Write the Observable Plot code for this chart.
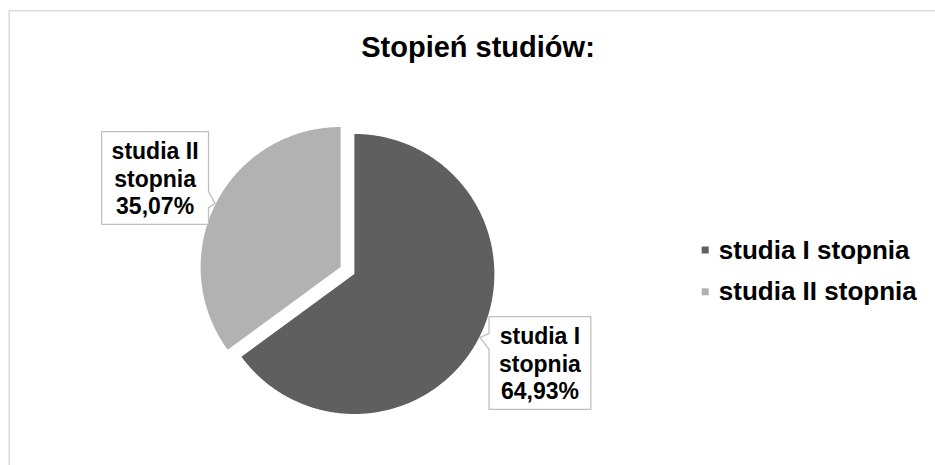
<!DOCTYPE html>
<html><head><meta charset="utf-8">
<script src="https://cdn.jsdelivr.net/npm/d3@7"></script>
<script src="https://cdn.jsdelivr.net/npm/@observablehq/plot@0.6"></script>
<style>
html,body{margin:0;padding:0;background:#fff;overflow:hidden;}
</style>
</head><body><div id="chart"></div>
<script>
// ---- data ----
const title = "Stopień studiów:";
const categories = ["studia I stopnia", "studia II stopnia"];
const labelLines = [["studia I", "stopnia"], ["studia II", "stopnia"]];
const shares = [64.93, 35.07];
const colors = ["#5f5f5f", "#b2b2b2"];

// ---- layout ----
const W = 935, H = 465;
const R = 140;            // pie radius in px
const cx = 347, cy = 270; // pie centre in px
const explode = 7.7 / R;
const FONT = "'Liberation Sans', Arial, sans-serif";
const labelFont = 23, labelLH = 1.2;

const fmtPct = v => v.toFixed(2).replace(".", ",") + "%";

const pie = d3.pie().sort(null).value(d => d)(shares);
const slices = pie.map((p, i) => {
  const mid = (p.startAngle + p.endAngle) / 2;
  return {...p, i, cat: categories[i], mid, ux: Math.sin(mid), uy: Math.cos(mid)};
});

// wedge outlines in unit (radius = 1) coordinates
const wedgePts = slices.flatMap(s => {
  const ox = s.ux * explode, oy = s.uy * explode;
  const n = Math.ceil((s.endAngle - s.startAngle) / (Math.PI / 360));
  const pts = [{cat: s.cat, x: ox, y: oy}];
  for (let k = 0; k <= n; k++) {
    const a = s.startAngle + (s.endAngle - s.startAngle) * k / n;
    pts.push({cat: s.cat, x: ox + Math.sin(a), y: oy + Math.cos(a)});
  }
  pts.push({cat: s.cat, x: ox, y: oy});
  return pts;
});

// callout boxes
const ctx = document.createElement("canvas").getContext("2d");
ctx.font = `bold ${labelFont}px ${FONT}`;
const labelR = 1.525, tipR = 1.06, labelRot = -0.021;
const labels = slices.map(s => {
  const lines = [...labelLines[s.i], fmtPct(s.value)];
  const w = (d3.max(lines, l => ctx.measureText(l).width) + 20) / R;
  const h = (lines.length * labelFont * labelLH + 10) / R;
  const la = s.mid + labelRot;
  return {s, lines, x: Math.sin(la) * labelR, y: Math.cos(la) * labelR, w, h, tx: s.ux * tipR, ty: s.uy * tipR};
});
const calloutPts = labels.flatMap((L, id) => {
  const x0 = L.x - L.w / 2, x1 = L.x + L.w / 2, yb = L.y - L.h / 2, yt = L.y + L.h / 2;
  const nc = L.ty + 0.15 * (L.y - L.ty), nh = 8 / R;
  const tip = {x: L.tx, y: L.ty};
  let p;
  if (L.tx > L.x) {
    p = [[x0, yt], [x1, yt], [x1, nc + nh], [tip.x, tip.y], [x1, nc - nh], [x1, yb], [x0, yb], [x0, yt]];
  } else {
    p = [[x0, yt], [x1, yt], [x1, yb], [x0, yb], [x0, nc - nh], [tip.x, tip.y], [x0, nc + nh], [x0, yt]];
  }
  return p.map(([x, y]) => ({id, x, y}));
});

const legendMarks = categories.flatMap((c, i) => [
  Plot.dot([c], {frameAnchor: "top-left", dx: 704.7, dy: 249.5 + i * 41.8, symbol: "square", r: 3.95, fill: d => d, stroke: "none"}),
  Plot.text([c], {frameAnchor: "top-left", lineAnchor: "middle", dx: 718.3, dy: 249.8 + i * 41.2, text: d => d, textAnchor: "start",
    fontSize: 26, fontWeight: "bold", fill: "#000"})
]);

const chart = Plot.plot({
  width: W, height: H,
  margin: 0,
  style: {fontFamily: FONT, background: "#fff", color: "#000"},
  x: {domain: [-cx / R, (W - cx) / R], range: [0, W], axis: null},
  y: {domain: [-(H - cy) / R, cy / R], range: [H, 0], axis: null},
  color: {type: "ordinal", domain: categories, range: colors},
  marks: [
    Plot.frame({stroke: "#d9d9d9", strokeWidth: 1.5, insetLeft: 8.7, insetTop: 10.2, insetRight: -4, insetBottom: -4}),
    Plot.text([title], {frameAnchor: "top-left", lineAnchor: "middle", dx: 477.5, dy: 47.4, text: d => d, fontSize: 29,
      fontWeight: "bold", textAnchor: "middle", fill: "#000"}),
    Plot.line(wedgePts, {x: "x", y: "y", z: "cat", fill: "cat", stroke: "none", curve: "linear"}),
    Plot.line(calloutPts, {x: "x", y: "y", z: "id", fill: "#fff", stroke: "#bfbfbf", strokeWidth: 1.3,
      curve: "linear", strokeLinejoin: "miter"}),
    Plot.text(labels, {x: "x", y: "y", text: L => L.lines.join("\n"), fontSize: labelFont, lineHeight: labelLH,
      fontWeight: "bold", textAnchor: "middle", fill: "#000"}),
    ...legendMarks
  ]
});
document.getElementById("chart").appendChild(chart);
</script>
</body></html>
